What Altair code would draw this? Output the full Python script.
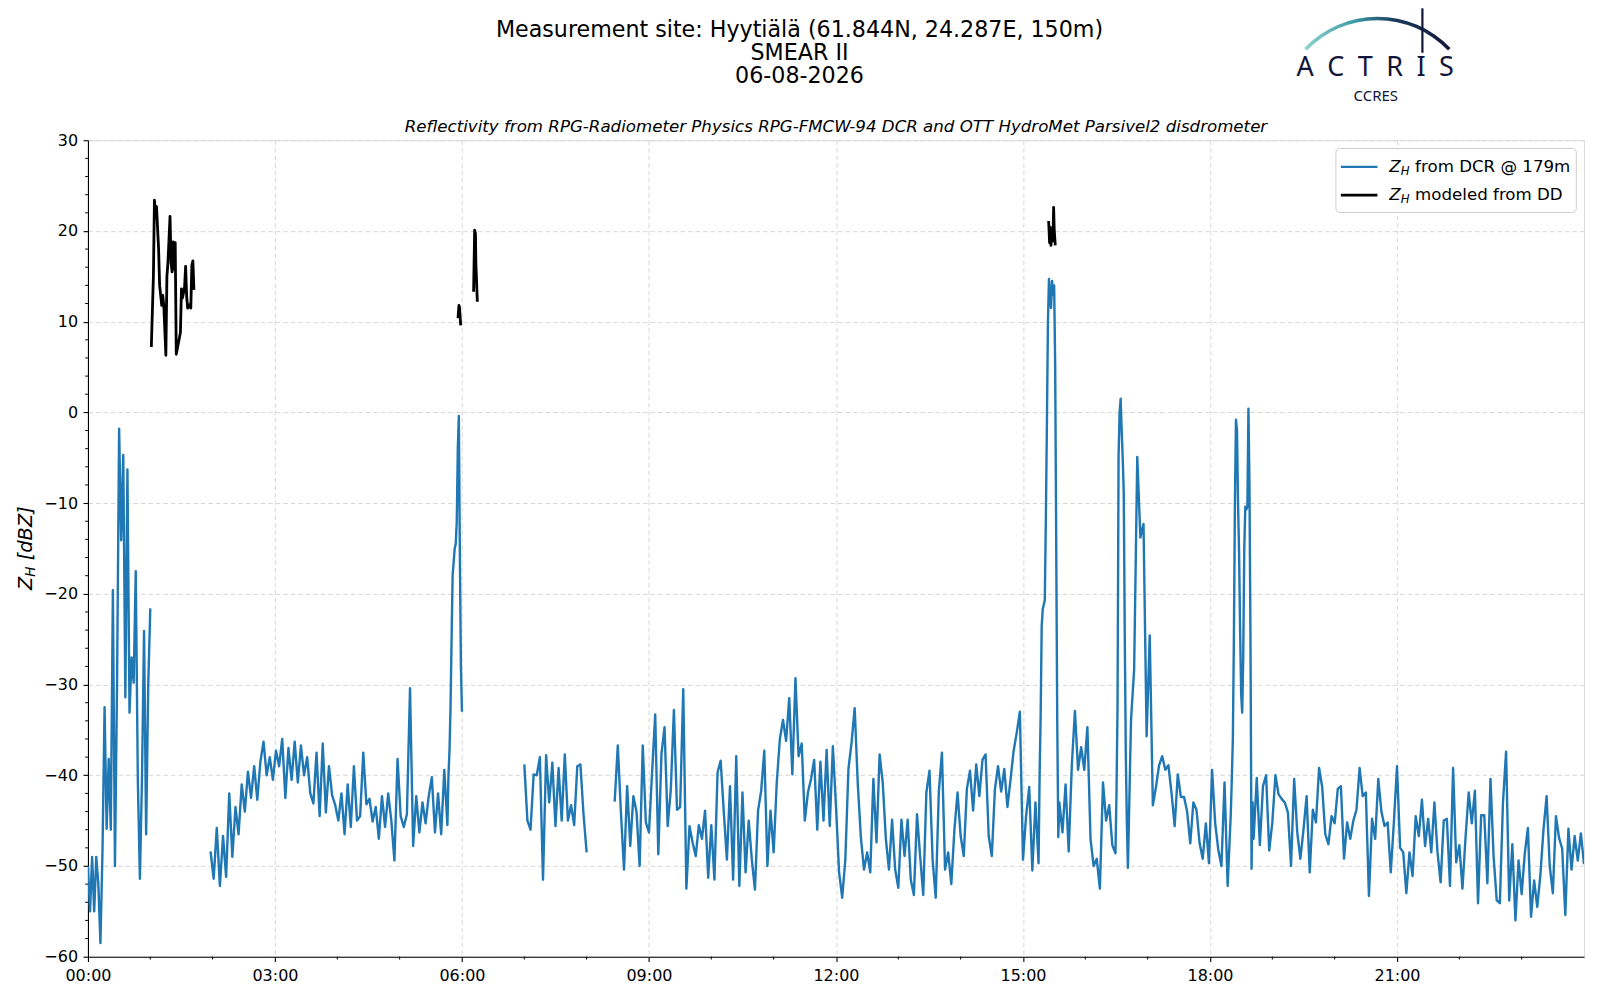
import altair as alt
import pandas as pd

# ---------------- DCR reflectivity at 179 m (dBZ) ----------------
# each run: first minute of the day, step in minutes, values
dcr_0000 = [-50, -55, -49, -55, -49, -52, -58.5, -48.4, -32.5, -45.9, -38.2, -46, -19.6, -50, -30,
            -1.8, -14.1, -4.7, -31.4, -6.3, -33.1, -27, -29.8, -17.5, -40.5, -51.4, -40.4, -24.1,
            -46.5, -30.2, -21.6]
dcr_0158 = [-48.4, -51.4, -45.8, -52.2, -46.7, -51.2, -42, -49, -43.5, -46.5, -41, -44, -39.6, -42.5,
            -39, -42.7, -38.5, -36.3, -40, -38, -40.5, -37.3, -39, -36, -42.5, -37, -40.5, -36.3,
            -40.8, -36.7, -40, -38, -42, -43.1, -37.5, -44.5, -36.5, -44.1, -39, -42.2, -43.3, -45,
            -42, -46.5, -41, -45.7, -39, -45, -44.5, -37.5, -43.2, -42.6, -45.1, -43.5, -47, -42.3,
            -45.7, -42, -45, -49.4, -38.2, -44.5, -45.7, -44.3, -30.4, -47.8, -42.3, -46.3, -43,
            -45.3, -42.3, -40.2, -46.3, -42, -46.5, -39.4, -45.5]
dcr_0547 = [-40, -37.3, -32.5, -25, -18, -16.5, -15, -14.5, -12, -4, -0.4, -16, -28, -33]
dcr_0700 = [-38.8, -45, -46, -39.9, -40, -38, -51.5, -37.8, -43, -38.6, -45.6, -39.2, -45, -37.7,
            -45, -43.3, -45.5, -39, -38.8, -44.3, -48.5]
dcr_0827 = [-42.9, -36.7, -44.1, -50.4, -41.2, -47.8, -42.3, -44, -50, -36.7, -45.2, -46.3, -39.7,
            -33.3, -48.7, -37.7, -34.7, -45.6, -41.6, -32.8, -43.8, -43.5, -30.5, -52.5, -45.6,
            -47.4, -48.9, -45.5, -47, -43.9, -51.3, -45.5, -51.5, -39.7, -38.4, -44, -49.3, -41.2,
            -51.5, -37.9, -52.2, -41.9, -50.7, -45, -49.3, -52.6, -43.9, -41.7, -37.3, -50, -43.9,
            -48.5, -40.8, -36, -33.9, -36.2, -31.5, -39.9, -29.3, -37.9,
            -36.5, -45, -41.9, -40.4, -38.3, -46, -38.5, -45, -37.2, -45.6, -36.8, -43.4, -50.7,
            -53.5, -49.3, -39.3, -36.4, -32.6, -41, -46.9, -50.4, -48.5, -50.7, -40.4, -47.4,
            -37.7, -40.8, -47, -50.4, -44.9, -50.4, -52.4, -44.9, -48.9, -44.9, -51.5, -53.2,
            -44.3, -48.9, -53.2, -41.9, -39.5, -49.3, -53.5, -41.8, -37.5, -50.4, -48.5, -52, -46,
            -41.9, -46.7, -48.9, -41.5, -39.5, -43.9, -38.8, -42.3, -38.3, -37.7, -46.7, -48.9,
            -41.5, -39, -41.8, -39.3, -43.5, -40.5, -37.3, -35.3, -33, -49.3,
            -44.5, -41.3, -50.5, -43, -49.7]
dcr_1516 = [-40, -33.5, -23.6, -21.7, -21.2, -20.7, -11.8, -1.5, 9.8, 14.7, 13, 11.5, 14.5, 13, 14,
            5, -14.8, -34.4, -46.8, -43]
dcr_1538 = [-46.3, -41, -48.4, -38.9, -32.9, -39.4, -36.9, -39.4, -34.7, -47, -50, -49.2, -52.5,
            -40.8, -45, -43.3, -47.7, -48.6]
dcr_1630 = [-42, -32.5, -4.9, 0, 1.5, -2, -5, -8.9, -25, -38, -45.3, -50.2]
dcr_1644 = [-33.9, -28.3, -4.9, -13.8, -12.3, -35.7, -24.6, -43.3, -41.3, -38.9, -37.9, -39.4,
            -38.9, -42, -45.6, -39.9, -42.4, -42.4, -44, -47.5, -43, -43.8, -47.5, -49.2, -45.3,
            -49.7, -39.4, -45.3, -48.2, -50, -40.8, -52.2, -44.3]
dcr_1821 = [-40.4, -36, -25, -10, -0.8, -2, -10, -15.5, -24, -31, -33.1, -27, -15, -10.4, -10.7,
            -10.4, 0.4, -8, -25.8, -50.3, -43, -47]
dcr_1845 = [-40.3, -47.7, -41.2, -40, -48.3, -45.2, -40, -42.1, -42.6, -43, -44.1, -50, -40.4,
            -46.3, -49.2, -46, -42.3, -50.7, -43.8, -45.2, -39.2, -41.3, -46.5, -47.6, -44.5,
            -45.3, -41.5, -41.2, -49.2, -45.2, -47, -45, -43.8, -39.2, -42.3, -41.9, -53.3, -44.8,
            -47, -40.4, -44, -45.6, -45.2, -50.7, -45.2, -39, -48, -48.5, -53, -48.5, -51.1,
            -44.5, -46.7, -42.7, -47.8, -44.8, -48.5, -43, -48.5, -51.8, -45, -44.8, -52.2, -39.2,
            -49.6,
            -47.7, -52.5, -46.8, -41.9, -45.3, -41.7, -54.1, -44.4, -44.4, -51.9, -40.4, -49,
            -53.8, -54.1, -43, -37.4, -53.8, -47.6, -56, -49.4, -53.1, -48.6, -45.8, -55.6, -51.6,
            -54.5, -51, -46, -42.3, -50, -53, -44.5, -46.9, -48.1, -55.4, -45.9, -50.4, -46.7,
            -49.4, -46.4, -49.8]
dcr_runs = [(0, 2, dcr_0000), (118, 3, dcr_0158), (347, 1, dcr_0547), (420, 3, dcr_0700),
            (507, 3, dcr_0827), (916, 1, dcr_1516), (938, 3, dcr_1538), (990, 1, dcr_1630),
            (1004, 3, dcr_1644), (1101, 1, dcr_1821), (1125, 3, dcr_1845)]

# ---------------- Z_H modeled from disdrometer (dBZ) ----------------
dd_min_1 = [61, 63, 64, 65, 66, 68, 69, 71, 72, 73, 75, 76, 77, 79, 80, 81, 82, 83, 84, 85, 89, 90,
            91, 93, 94, 95, 96, 98, 99, 100, 101, 102]
dd_val_1 = [7.2, 15, 23.4, 21.5, 22.7, 18, 14, 11.8, 12.9, 11.8, 6.3, 15, 16.5, 21.6, 16.5, 15.5,
            18.8, 15.8, 18.7, 6.4, 8.8, 13.6, 12.6, 13.8, 16.1, 12.8, 11.5, 11.9, 11.5, 16.2, 16.7,
            13.5]
dd_min_2 = [356.2, 357.1, 357.6, 358.8]
dd_val_2 = [10.4, 11.8, 11.6, 9.6]
dd_min_3 = [371.2, 372.2, 373, 373.4, 374.8]
dd_val_3 = [13.3, 20.1, 19.7, 16.4, 12.2]
dd_min_4 = [924.7, 925.6, 926.3, 926.9, 927.8, 928.8, 929.5, 930.1, 931.1]
dd_val_4 = [21.1, 18.7, 20.4, 18.4, 19.7, 18.9, 22.6, 20.1, 18.4]

# ---------------- ticks and texts ----------------
x_major = [0, 3, 6, 9, 12, 15, 18, 21]
x_minor = [1, 2, 4, 5, 7, 8, 10, 11, 13, 14, 16, 17, 19, 20, 22, 23]
y_major = [-60, -50, -40, -30, -20, -10, 0, 10, 20, 30]
y_minor = [v for v in range(-58, 30, 2) if v % 10 != 0]
title_lines = ["Measurement site: Hyytiälä (61.844N, 24.287E, 150m)", "SMEAR II", "06-08-2026"]
subtitle = ("Reflectivity from RPG-Radiometer Physics RPG-FMCW-94 DCR and OTT HydroMet "
            "Parsivel2 disdrometer")
legend_labels = ["from DCR @ 179m", "modeled from DD"]

# ---------------- data frames ----------------
rows = []
for start, step, vals in dcr_runs:
    for i, v in enumerate(vals):
        rows.append((start + i * step, v))
dcr = pd.DataFrame(rows, columns=["minute", "zh"]).sort_values("minute").reset_index(drop=True)
dcr["seg"] = (dcr["minute"].diff().fillna(0) > 10).cumsum()
dcr["hour"] = dcr["minute"] / 60.0

dd_parts = []
for s, (m, v) in enumerate([(dd_min_1, dd_val_1), (dd_min_2, dd_val_2),
                            (dd_min_3, dd_val_3), (dd_min_4, dd_val_4)]):
    dd_parts.append(pd.DataFrame({"minute": m, "zh": v, "seg": s}))
dd = pd.concat(dd_parts, ignore_index=True)
dd["hour"] = dd["minute"] / 60.0

ymin_df = pd.DataFrame({"zh": y_minor})
xmin_df = pd.DataFrame({"hour": x_minor})
one = pd.DataFrame({"k": [0]})

W, H = 1497, 817
FONT = "DejaVu Sans"
BLUE = "#1f77b4"
NAVY = "#121539"

xscale = alt.Scale(domain=[0, 24], nice=False, zero=False)
yscale = alt.Scale(domain=[-60, 30], nice=False, zero=False)
common_axis = dict(title=None, grid=True, gridColor="#d3d3d3", gridDash=[4.5, 3], gridWidth=0.9,
                   domainColor="black", domainWidth=1.1, tickColor="black", tickWidth=1.1,
                   tickSize=4.9, labelFont=FONT, labelFontSize=16, labelColor="black",
                   labelFlush=False, labelOverlap=False)
xaxis = alt.Axis(values=x_major, labelPadding=6,
                 labelExpr="(datum.value < 10 ? '0' : '') + datum.value + ':00'", **common_axis)
yaxis = alt.Axis(values=y_major, format="d", labelPadding=5.5, **common_axis)
X = alt.X("hour:Q", scale=xscale, axis=xaxis)
Y = alt.Y("zh:Q", scale=yscale, axis=yaxis)

layers = []
layers.append(alt.Chart(dcr).mark_line(color=BLUE, strokeWidth=2.4, clip=True, strokeJoin="round")
              .encode(x=X, y=Y, detail="seg:N", order="minute:Q"))
layers.append(alt.Chart(dd).mark_line(color="black", strokeWidth=2.8, clip=True, strokeJoin="round")
              .encode(x=X, y=Y, detail="seg:N", order="minute:Q"))
# minor ticks
layers.append(alt.Chart(ymin_df).mark_rule(color="black", strokeWidth=1.0)
              .encode(y=Y, x=alt.value(0), x2=alt.value(-2.8)))
layers.append(alt.Chart(xmin_df).mark_rule(color="black", strokeWidth=1.0)
              .encode(x=X, y=alt.value(H), y2=alt.value(H + 2.8)))


def txt(s, x, y, size, **kw):
    props = dict(text=s, fontSize=size, font=kw.pop("font", FONT), color=kw.pop("color", "black"),
                 align=kw.pop("align", "left"), baseline=kw.pop("baseline", "alphabetic"))
    props.update(kw)
    return alt.Chart(one).mark_text(**props).encode(x=alt.value(x), y=alt.value(y))


# titles
for i, line in enumerate(title_lines):
    layers.append(txt(line, 712, -103.5 + 23 * i, 22.2, align="center"))
layers.append(txt(subtitle, W / 2, -8.5, 16.67, align="center", fontStyle="italic"))

# y label  Z_H [dBZ]
layers.append(txt("Z", -56.3, 450, 19.4, angle=270, fontStyle="italic"))
layers.append(txt("H", -53, 436.7, 13.6, angle=270, fontStyle="italic"))
layers.append(txt("[dBZ]", -56.3, 420.3, 19.4, angle=270, fontStyle="italic"))

# legend
layers.append(alt.Chart(one).mark_rect(fill="white", fillOpacity=0.8, stroke="#cccccc",
                                       strokeWidth=1, cornerRadius=4)
              .encode(x=alt.value(1248.7), x2=alt.value(1489.3), y=alt.value(8.3), y2=alt.value(72.3)))
for i, (col, lab) in enumerate(zip([BLUE, "black"], legend_labels)):
    base = 31.7 + 28.3 * i
    layers.append(alt.Chart(one).mark_rule(color=col, strokeWidth=2.8 if i else 2.4)
                  .encode(x=alt.value(1253.7), x2=alt.value(1290.3), y=alt.value(base - 5)))
    layers.append(txt("Z", 1302, base, 16.67, fontStyle="italic"))
    layers.append(txt("H", 1313.6, base + 3.3, 11.7, fontStyle="italic"))
    layers.append(txt(lab, 1328, base, 16.67))

# logo
grad = alt.LinearGradient(gradient="linear",
                          stops=[alt.GradientStop(color="#8fd4cf", offset=0),
                                 alt.GradientStop(color="#3b9aa6", offset=0.35),
                                 alt.GradientStop(color="#1b3c5c", offset=0.62),
                                 alt.GradientStop(color=NAVY, offset=1)],
                          x1=0, x2=1, y1=0, y2=0)
layers.append(alt.Chart(one).mark_arc(theta=5.473, theta2=7.093, radius=101, radius2=97.5, fill=grad)
              .encode(x=alt.value(1290.3), y=alt.value(-22.6)))
layers.append(alt.Chart(one).mark_rule(color=NAVY, strokeWidth=2.2)
              .encode(x=alt.value(1335.3), y=alt.value(-132), y2=alt.value(-87.5)))
layers.append(txt("A\u2002C\u2002T\u2002R\u2002I\u2002S", 1288, -64, 27, align="center",
                  font="Noto Sans", color=NAVY))
layers.append(txt("CCRES", 1288.7, -39.5, 15, align="center", font="Noto Sans", color=NAVY))

chart = (alt.layer(*layers)
         .properties(width=W, height=H, autosize=alt.AutoSizeParams(type="none"),
                     padding={"left": 80, "top": 132, "right": 8, "bottom": 40})
         .configure_view(stroke="black", strokeWidth=1.1)
         .configure(font=FONT))

chart.save("out.html", embed_options={"renderer": "svg", "actions": False})
